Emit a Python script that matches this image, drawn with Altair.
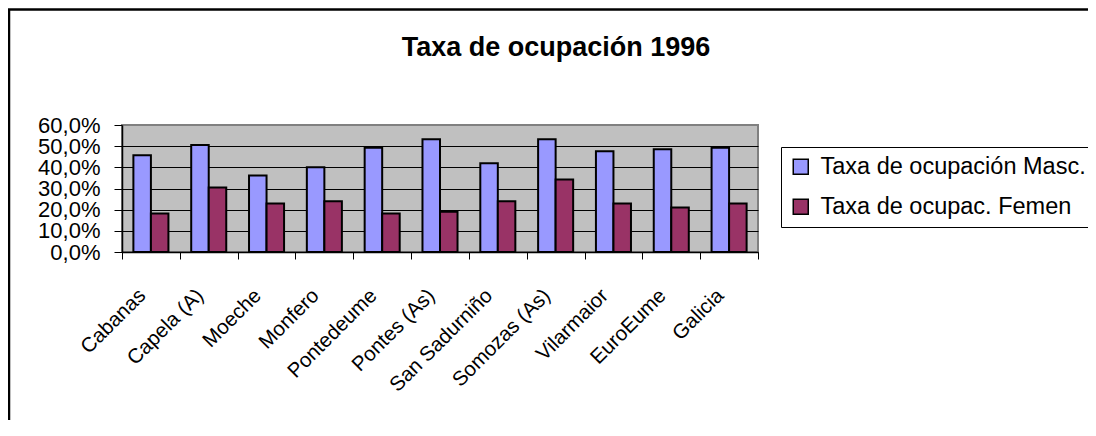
import altair as alt
import pandas as pd

TITLE = "Taxa de ocupación 1996"
categories = ["Cabanas", "Capela (A)", "Moeche", "Monfero", "Pontedeume",
              "Pontes (As)", "San Sadurniño", "Somozas (As)", "Vilarmaior",
              "EuroEume", "Galicia"]
series = ["Taxa de ocupación Masc.", "Taxa de ocupac. Femen"]
masc = [45.7, 50.5, 36.2, 40.0, 49.3, 53.3, 41.9, 53.3, 47.6, 48.5, 49.3]
fem = [18.2, 30.5, 22.9, 24.0, 18.2, 19.0, 24.0, 34.3, 22.9, 21.0, 22.9]
y_ticks = [0.0, 0.1, 0.2, 0.3, 0.4, 0.5, 0.6]
colors = ["#9999FF", "#993366"]

rows = []
for c, m, f in zip(categories, masc, fem):
    rows.append({"cat": c, "serie": series[0], "val": m / 100})
    rows.append({"cat": c, "serie": series[1], "val": f / 100})
df = pd.DataFrame(rows)

FONT = "Liberation Sans"

bars = alt.Chart(df).mark_bar(stroke="black", strokeWidth=2).encode(
    x=alt.X("cat:N", sort=categories, title=None,
            scale=alt.Scale(paddingInner=0, paddingOuter=0),
            axis=alt.Axis(tickBand="extent", labelAngle=-45, labelAlign="right",
                          labelBaseline="top", labelOffset=-16, labelPadding=26,
                          tickSize=7, tickColor="black", domainColor="black",
                          domainWidth=1.5, labelFontSize=20.5, labelFont=FONT,
                          labelColor="black", grid=False, labelOverlap=False,
                          labelLimit=400)),
    xOffset=alt.XOffset("serie:N", sort=series,
                        scale=alt.Scale(paddingInner=0, paddingOuter=0.65)),
    y=alt.Y("val:Q", title=None,
            scale=alt.Scale(domain=[0, 0.6], nice=False),
            axis=alt.Axis(values=y_ticks,
                          labelExpr="replace(format(datum.value, '.1%'), '.', ',')",
                          labelFontSize=22, labelFont=FONT, labelColor="black",
                          labelPadding=14, tickSize=8, tickColor="black",
                          domainColor="black", domainWidth=1.5,
                          grid=True,
                          gridColor={"condition": {"test": "datum.value >= 0.59", "value": "#808080"},
                                     "value": "black"},
                          gridWidth=1, labelOverlap=False, labelFlush=False,
                          labelBound=False)),
    fill=alt.Fill("serie:N", sort=series,
                  scale=alt.Scale(domain=series, range=colors),
                  legend=alt.Legend(title=None, orient="none", legendX=659, legendY=22,
                                    labelFontSize=23.5, labelFont=FONT, labelColor="black",
                                    labelLimit=400, symbolType="square", symbolSize=225,
                                    symbolStrokeColor="black", symbolStrokeWidth=1.5,
                                    strokeColor="black", fillColor="white",
                                    padding=8, rowPadding=15, labelOffset=8)),
)

one = alt.Data(values=[{"k": 1}])

frame_left = alt.Chart(one).mark_rule(color="black", strokeWidth=2.5).encode(
    x=alt.value(-113), y=alt.value(-116), y2=alt.value(300))
frame_top = alt.Chart(one).mark_rule(color="black", strokeWidth=2.5).encode(
    y=alt.value(-115.5), x=alt.value(-114), x2=alt.value(980))

title = alt.Chart(one).mark_text(text=TITLE, font=FONT, fontSize=27, fontWeight="bold",
                                 align="center", baseline="alphabetic",
                                 color="black").encode(
    x=alt.value(434), y=alt.value(-69.5))

chart = alt.layer(bars, frame_left, frame_top, title).properties(
    width=636, height=127,
    autosize=alt.AutoSizeParams(type="none"),
    padding={"left": 114, "top": 117, "right": 330, "bottom": 168},
).configure_view(fill="#C0C0C0", stroke="#808080", strokeWidth=2)

chart.save("out.html", embed_options={"renderer": "svg", "actions": False})
